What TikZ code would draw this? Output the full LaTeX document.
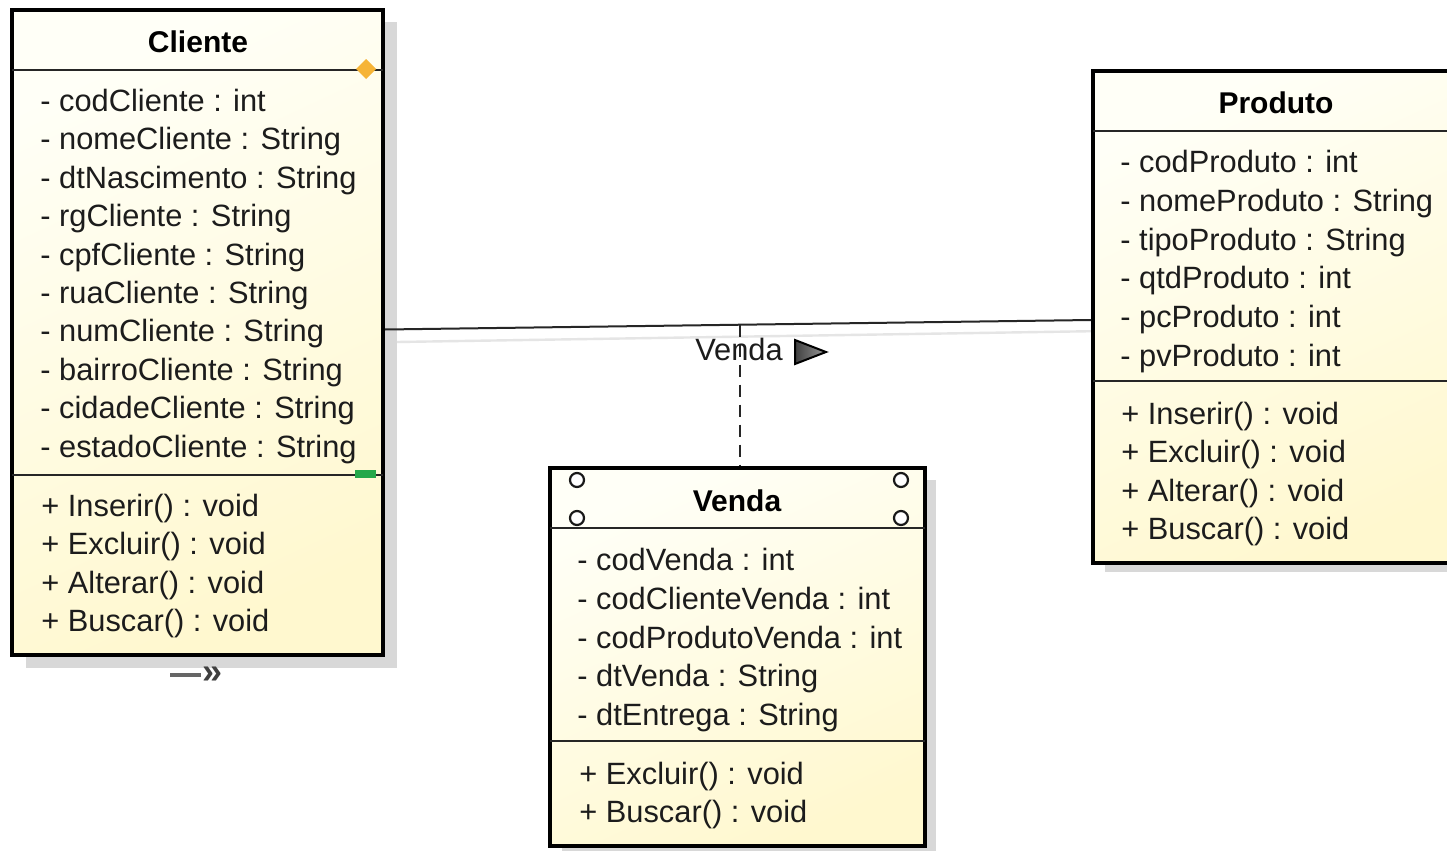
\documentclass[tikz,border=0pt]{standalone}
\usepackage{fontspec}
\setmainfont{Liberation Sans}
\usetikzlibrary{fit,calc}

\definecolor{ylight}{HTML}{FFFFF7}
\definecolor{ydark}{HTML}{FFF8CF}
\definecolor{shadowgray}{HTML}{D8D8D8}
\definecolor{inkgray}{HTML}{1C1C1C}
\definecolor{markorange}{HTML}{F6B437}
\definecolor{markgreen}{HTML}{25A84A}

\newcommand{\memberfont}{\fontsize{15.4}{18}\selectfont}
\newcommand{\titlefont}{\fontsize{15}{18}\selectfont\bfseries}

\begin{document}
\begin{tikzpicture}[x=0.5pt,y=-0.5pt,
  classbox/.style={draw=black, line width=2pt, inner sep=0pt,
    top color=ylight, bottom color=ydark, shading angle=25},
  sepline/.style={draw=black!85, line width=1pt},
  member/.style={anchor=base west, inner sep=0pt, font=\memberfont, text=inkgray},
  classtitle/.style={anchor=base, inner sep=0pt, font=\titlefont, text=black},
  assoc/.style={draw=black!85, line width=1pt},
  depline/.style={draw=black!85, line width=1pt, dash pattern=on 6pt off 4pt},
  portcircle/.style={draw=black!90, line width=1.1pt, fill=white, minimum size=7pt, inner sep=0pt, circle},
]
\useasboundingbox (0,0) rectangle (1447,851);
\clip (0,0) rectangle (1447,851);
\fill[white] (0,0) rectangle (1447,851);

% drop shadows of the three classes
\fill[shadowgray] (26,22) rectangle (397,668);
\fill[shadowgray] (1105,82) rectangle (1480,572);
\fill[shadowgray] (562,480) rectangle (936,860);

% shadow of the association line
\draw[black!10, line width=1.2pt] (397,342) -- (1105,331);

% ---------- Cliente ----------
\node[classbox, fit={(12,10) (383,655)}] (cliente) {};
\draw[sepline] (12,70) -- (383,70);
\draw[sepline] (12,475) -- (383,475);
\node[classtitle] (clienteT) at (198,52) {Cliente};
\foreach \t [count=\i from 0] in {%
  - codCliente : int,
  - nomeCliente : String,
  - dtNascimento : String,
  - rgCliente : String,
  - cpfCliente : String,
  - ruaCliente : String,
  - numCliente : String,
  - bairroCliente : String,
  - cidadeCliente : String,
  - estadoCliente : String}
  \node[member] (cA\i) at (40,{111.5+38.4*\i}) {\t};
\foreach \t [count=\i from 0] in {%
  + Inserir() : void,
  + Excluir() : void,
  + Alterar() : void,
  + Buscar() : void}
  \node[member] (cM\i) at (41,{516.5+38.3*\i}) {\t};
% handles on the Cliente box
\fill[markorange] (366,59) -- (376,69) -- (366,79) -- (356,69) -- cycle;
\fill[markgreen] (355,470) rectangle (376,478);
\draw[black!60, line width=2pt] (170,675) -- (201,675);
\node[inner sep=0pt, font=\fontsize{18}{20}\selectfont\bfseries, text=black!75] (cliMore) at (213,675) {»};

% ---------- Produto ----------
\node[classbox, fit={(1093,71) (1480,563)}] (produto) {};
\draw[sepline] (1093,131) -- (1480,131);
\draw[sepline] (1093,381) -- (1480,381);
\node[classtitle] (produtoT) at (1276,113) {Produto};
\foreach \t [count=\i from 0] in {%
  - codProduto : int,
  - nomeProduto : String,
  - tipoProduto : String,
  - qtdProduto : int,
  - pcProduto : int,
  - pvProduto : int}
  \node[member] (pA\i) at (1120,{172.5+38.8*\i}) {\t};
\foreach \t [count=\i from 0] in {%
  + Inserir() : void,
  + Excluir() : void,
  + Alterar() : void,
  + Buscar() : void}
  \node[member] (pM\i) at (1121,{424.5+38.3*\i}) {\t};

% ---------- Venda ----------
\node[classbox, fit={(550,468) (925,846)}] (venda) {};
\draw[sepline] (550,528) -- (925,528);
\draw[sepline] (550,741) -- (925,741);
\node[classtitle] (vendaT) at (737,511) {Venda};
\foreach \t [count=\i from 0] in {%
  - codVenda : int,
  - codClienteVenda : int,
  - codProdutoVenda : int,
  - dtVenda : String,
  - dtEntrega : String}
  \node[member] (vA\i) at (577,{570.5+38.75*\i}) {\t};
\foreach \t [count=\i from 0] in {%
  + Excluir() : void,
  + Buscar() : void}
  \node[member] (vM\i) at (579,{784.5+38*\i}) {\t};
\node[portcircle] (vp1) at (577,480) {};
\node[portcircle] (vp2) at (577,518) {};
\node[portcircle] (vp3) at (901,480) {};
\node[portcircle] (vp4) at (901,518) {};

% ---------- association Cliente -- Produto with class Venda ----------
\draw[assoc] ($(cliente.east)+(0,-3)$) -- coordinate[pos=0.503] (assocMid) ($(produto.west)+(0,3)$);
\node[anchor=base, inner sep=0pt, font=\memberfont, text=inkgray] (assocName) at (739,360) {Venda};
\draw[black, line width=1pt, left color=black!75, right color=black!40]
  (795,340) -- (795,364) -- (826,352) -- cycle;
\draw[depline] (assocMid) -- (assocMid |- venda.north);
\end{tikzpicture}
\end{document}
